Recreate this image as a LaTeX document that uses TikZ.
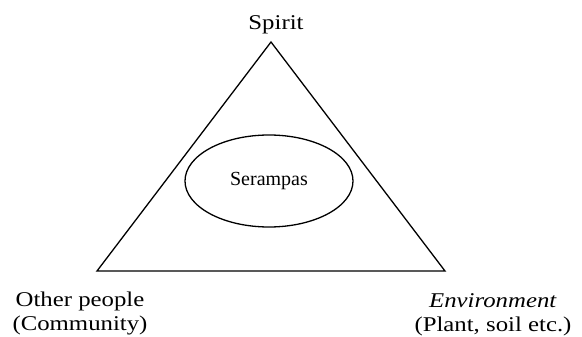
\documentclass[tikz,border=0pt]{standalone}
\usepackage{fontspec}
\setmainfont{Liberation Serif}
\newfontfamily\labelfont[FakeStretch=1.18]{Liberation Serif}
\usetikzlibrary{positioning,shapes.geometric}

\begin{document}
\begin{tikzpicture}[x=1pt,y=-1pt,line width=1.3pt,
  every node/.style={font=\labelfont\fontsize{21}{24}\selectfont,align=center,inner sep=0pt}]
\useasboundingbox (0,0) rectangle (582,337);
\coordinate (top) at (271,42);
\coordinate (left) at (97,271);
\coordinate (right) at (445,271);
\draw[line join=miter] (top) -- (left) -- (right) -- cycle;
\node[draw,ellipse,minimum width=168pt,minimum height=92pt,
  font=\rmfamily\fontsize{20}{24}\selectfont] (sera) at (269,181) {Serampas};
\node[anchor=base] (spirit) at (276,30) {Spirit};
\node[anchor=base] (people) at (80,330) {Other people\\(Community)};
\node[anchor=base] (env) at (493,331) {\textit{Environment}\\(Plant, soil etc.)};
\end{tikzpicture}
\end{document}
